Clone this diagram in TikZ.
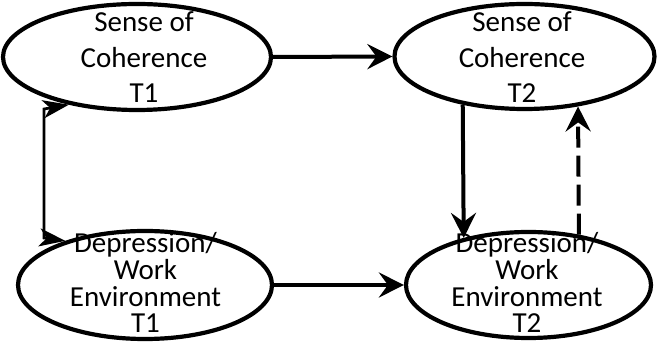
\documentclass[tikz,border=0pt]{standalone}
\usepackage{fontspec}
\setmainfont{Carlito}
\usetikzlibrary{arrows.meta,shapes.geometric}
\begin{document}
\begin{tikzpicture}[x=1pt,y=-1pt,
  construct/.style={ellipse, draw, line width=4.2pt, inner sep=0pt},
  toplabel/.style={align=center, inner sep=0pt, anchor=base,
    font=\fontsize{29}{35.5}\selectfont},
  botlabel/.style={align=center, inner sep=0pt, anchor=base,
    font=\fontsize{29}{26.7}\selectfont},
  link/.style={line width=4pt, -{Stealth[length=25pt,width=25pt,inset=9pt]}},
  dashlink/.style={link, dash pattern=on 21pt off 8pt},
  bracketlink/.style={line width=2.7pt,
    {Stealth[length=26pt,width=18pt,inset=7pt]}-{Stealth[length=26pt,width=18pt,inset=7pt]}}
]
\useasboundingbox (0,0) rectangle (667,344);

% constructs
\node[construct, minimum width=268pt, minimum height=106pt] (soc1) at (137,57) {};
\node[construct, minimum width=260pt, minimum height=105pt] (soc2) at (524.5,56.5) {};
\node[construct, minimum width=254pt, minimum height=108pt] (dep1) at (145,285) {};
\node[construct, minimum width=245pt, minimum height=106pt] (dep2) at (528.5,285) {};

% labels (base anchor sits on the last line)
\node[toplabel] (soc1text) at (144,103) {Sense of\\Coherence\\T1};
\node[toplabel] (soc2text) at (522,103) {Sense of\\Coherence\\T2};
\node[botlabel] (dep1text) at (145.5,333) {Depression/\\Work\\Environment\\T1};
\node[botlabel] (dep2text) at (527,333) {Depression/\\Work\\Environment\\T2};

% paths
\draw[link] (soc1.east) -- (soc2.west);
\draw[link] (dep1.east) -- (dep2.west);
\draw[link] (soc2.218.1) -- (dep2.144.5);
\draw[dashlink] (dep2.45.1) -- (soc2.317.6);

% cross-sectional association at T1
\coordinate (bracktop) at (44,109);
\coordinate (brackbot) at (44,238);
\draw[bracketlink] (soc1.215.5) -- (bracktop) -- (brackbot) -- (dep1.151.8);
\end{tikzpicture}
\end{document}
